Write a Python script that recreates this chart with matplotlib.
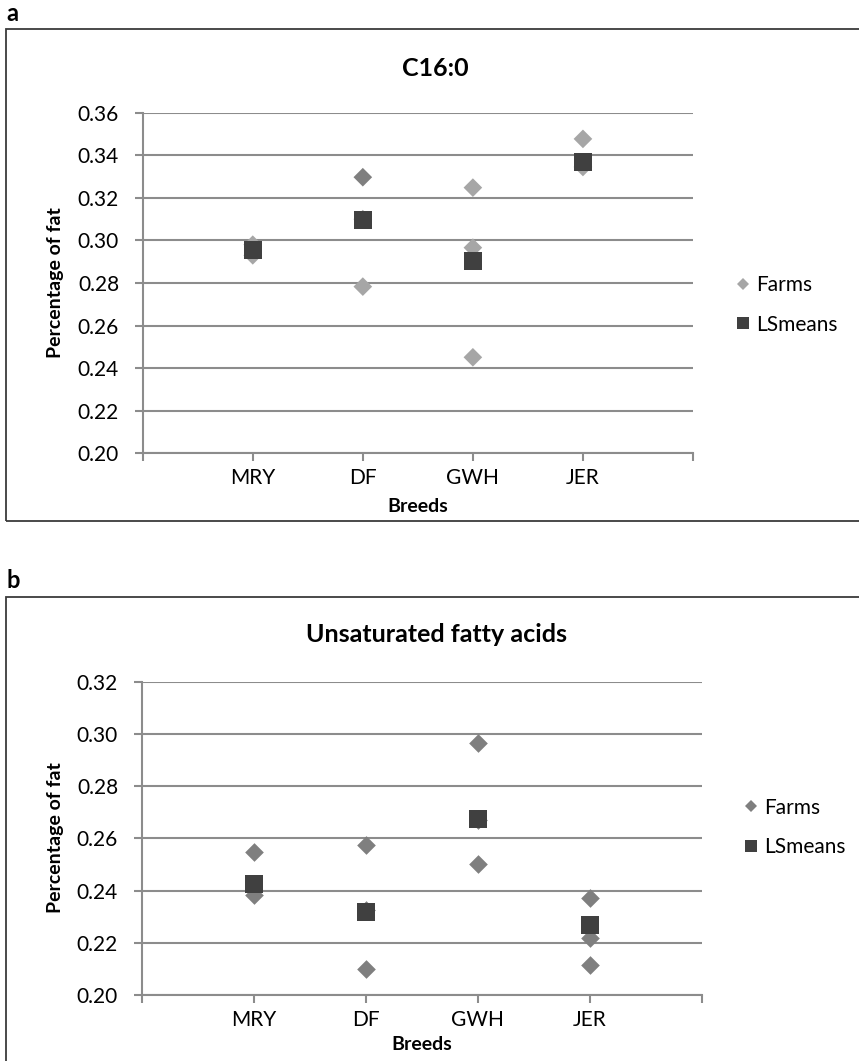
import matplotlib
matplotlib.use('Agg')
import matplotlib.pyplot as plt
from matplotlib.patches import Rectangle
from matplotlib.lines import Line2D
from matplotlib.ticker import FormatStrFormatter

plt.rcParams['font.family'] = ['Lato', 'DejaVu Sans']

# ---------------- data ----------------
breeds = ['MRY', 'DF', 'GWH', 'JER']

# panel a: C16:0
a_farm_breed = ['MRY', 'MRY', 'DF', 'DF', 'DF', 'GWH', 'GWH', 'GWH', 'JER', 'JER']
a_farm_values = [0.298, 0.293, 0.3297, 0.310, 0.2783, 0.3248, 0.2966, 0.2451, 0.3477, 0.3345]
a_farm_dark = [False, False, True, False, False, False, False, False, False, False]
a_lsmeans = [0.2954, 0.3096, 0.2902, 0.3367]
a_yticks = [0.20, 0.22, 0.24, 0.26, 0.28, 0.30, 0.32, 0.34, 0.36]

# panel b: Unsaturated fatty acids
b_farm_breed = ['MRY', 'MRY', 'DF', 'DF', 'DF', 'GWH', 'GWH', 'GWH', 'JER', 'JER', 'JER']
b_farm_values = [0.2546, 0.2383, 0.2574, 0.2326, 0.2100, 0.2964, 0.2670, 0.2502, 0.2373, 0.2220, 0.2115]
b_lsmeans = [0.2425, 0.2317, 0.2673, 0.2267]
b_yticks = [0.20, 0.22, 0.24, 0.26, 0.28, 0.30, 0.32]

# ---------------- layout ----------------
W, H = 859, 1061
fig = plt.figure(figsize=(W / 100, H / 100), dpi=100)


def fx(px):
    return px / W


def fy(py):
    return 1 - py / H


def axes_px(l, t, r, b):
    return fig.add_axes([fx(l), fy(b), (r - l) / W, (b - t) / H])


GRID = '#8c8c8c'
LIGHT = '#a6a6a6'
MID = '#7f7f7f'
DARK = '#404040'

axA = axes_px(142.7, 112.7, 693, 453.3)
axB = axes_px(141.7, 681.7, 702, 995)

pos = {b: i + 1 for i, b in enumerate(breeds)}


def style(ax, yticks):
    ax.set_xlim(0, len(breeds) + 1)
    ax.set_xticks(range(len(breeds) + 2))
    ax.set_xticklabels([''] + breeds + [''])
    ax.set_ylim(yticks[0], yticks[-1])
    ax.set_yticks(yticks)
    ax.yaxis.set_major_formatter(FormatStrFormatter('%.2f'))
    for s in ['top', 'right']:
        ax.spines[s].set_visible(False)
    for s in ['left', 'bottom']:
        ax.spines[s].set_color(GRID)
        ax.spines[s].set_linewidth(1.5)
    ax.yaxis.grid(True, color=GRID, lw=1.5)
    ax.set_axisbelow(True)
    ax.tick_params(axis='both', direction='out', length=6, width=1.5, color=GRID,
                   labelsize=15, labelcolor='black')
    ax.tick_params(axis='y', pad=11)
    ax.tick_params(axis='x', pad=4.5)


style(axA, a_yticks)
style(axB, b_yticks)

# panel a marks
xa = [pos[b] for b in a_farm_breed]
ca = [MID if d else LIGHT for d in a_farm_dark]
axA.scatter(xa, a_farm_values, marker='D', s=9.5 ** 2, c=ca, linewidths=0, zorder=3, clip_on=False)
axA.scatter([pos[b] for b in breeds], a_lsmeans, marker='s', s=13.5 ** 2, c=DARK, linewidths=0,
            zorder=4, clip_on=False)

# panel b marks
xb = [pos[b] for b in b_farm_breed]
axB.scatter(xb, b_farm_values, marker='D', s=9.5 ** 2, c=MID, linewidths=0, zorder=3, clip_on=False)
axB.scatter([pos[b] for b in breeds], b_lsmeans, marker='s', s=13.5 ** 2, c=DARK, linewidths=0,
            zorder=4, clip_on=False)


def legend(ax, farm_color, x_marker, y_center):
    handles = [Line2D([], [], ls='', marker='D', color=farm_color, ms=6.5, mew=0),
               Line2D([], [], ls='', marker='s', color=DARK, ms=9, mew=0)]
    hl = 1.0
    fs_px = 15 * 100 / 72
    lg = ax.legend(handles, ['Farms', 'LSmeans'], loc='center left',
                   bbox_to_anchor=(fx(x_marker - hl * fs_px / 2), fy(y_center)),
                   bbox_transform=fig.transFigure, frameon=False, fontsize=15,
                   handlelength=hl, handletextpad=0.15, labelspacing=0.95,
                   borderpad=0, borderaxespad=0)
    return lg


legend(axA, LIGHT, 743, 304.7)
legend(axB, MID, 751, 827.5)

# titles and labels
fig.text(fx(435.5), fy(68), 'C16:0', ha='center', va='center', fontsize=18, fontweight='bold')
fig.text(fx(437), fy(635), 'Unsaturated fatty acids', ha='center', va='center', fontsize=18,
         fontweight='bold')

fig.text(fx(55), fy(283), 'Percentage of fat', rotation=90, ha='center', va='center',
         fontsize=14, fontweight='bold')
fig.text(fx(55), fy(838), 'Percentage of fat', rotation=90, ha='center', va='center',
         fontsize=14, fontweight='bold')

fig.text(fx(418), fy(506), 'Breeds', ha='center', va='center', fontsize=14, fontweight='bold')
fig.text(fx(422), fy(1045), 'Breeds', ha='center', va='center', fontsize=14, fontweight='bold')

# panel letters
fig.text(fx(6.7), fy(21), 'a', ha='left', va='baseline', fontsize=17, fontweight='bold')
fig.text(fx(6.7), fy(588.3), 'b', ha='left', va='baseline', fontsize=17, fontweight='bold')

# chart frames (extend past the image edge as in the reference)
fig.patches.append(Rectangle((fx(6), fy(520.7)), (900 - 6) / W, (520.7 - 29) / H,
                             transform=fig.transFigure, fill=False, ec='#3a3a3a', lw=1.3))
fig.patches.append(Rectangle((fx(6), fy(1100)), (900 - 6) / W, (1100 - 596.7) / H,
                             transform=fig.transFigure, fill=False, ec='#3a3a3a', lw=1.3))

fig.savefig('out.png', dpi=100)
